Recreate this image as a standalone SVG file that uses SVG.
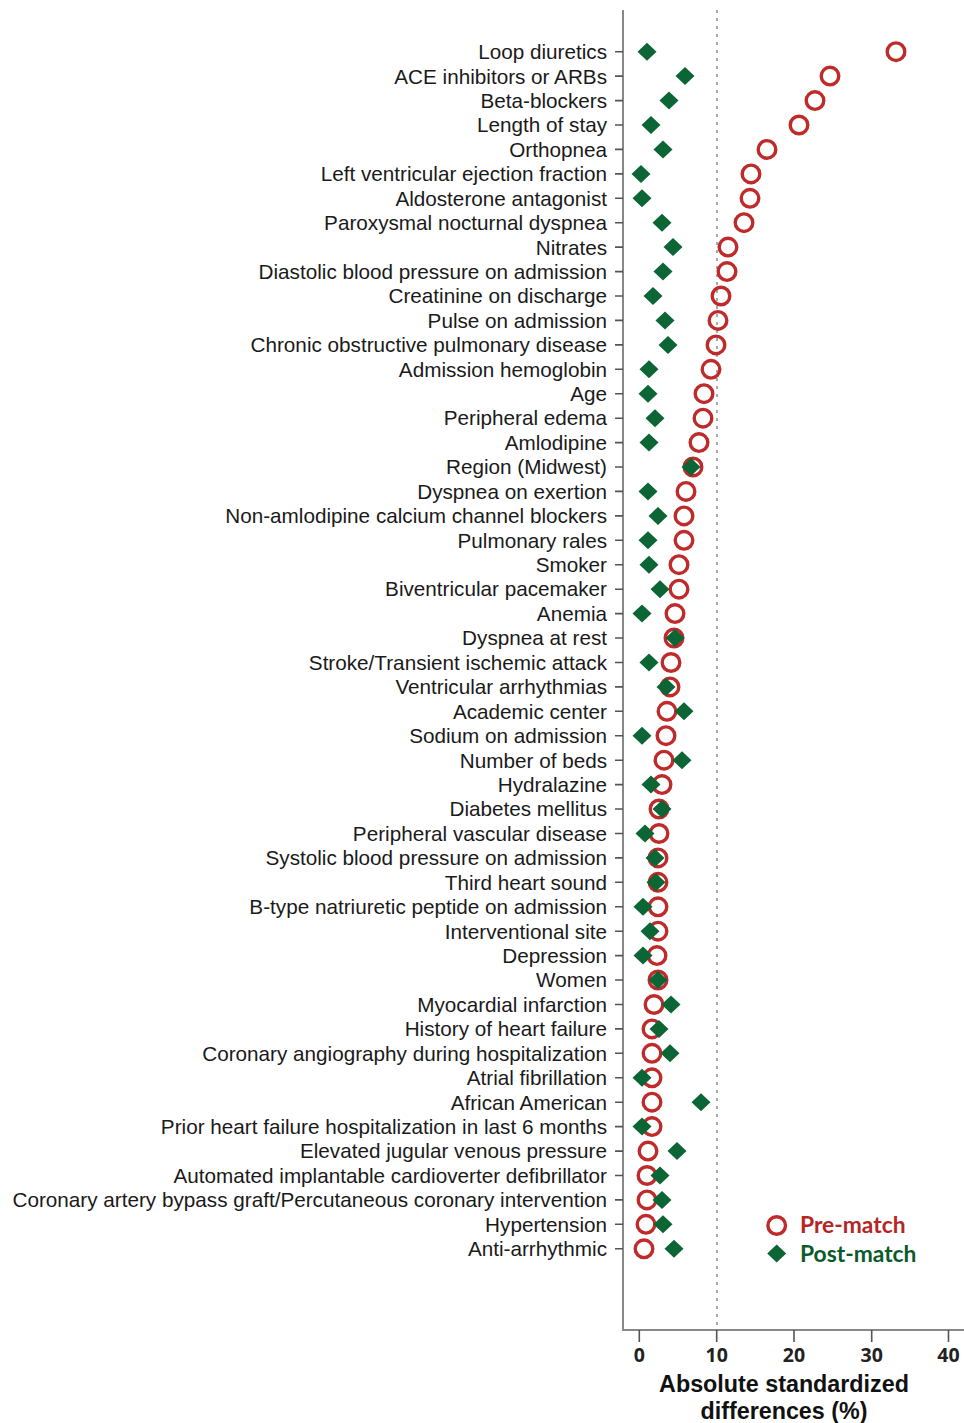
<svg xmlns="http://www.w3.org/2000/svg" xmlns:xlink="http://www.w3.org/1999/xlink" width="964" height="1423" viewBox="0 0 964 1423">
<style>
.lbl{font-family:"Liberation Sans",Arial,sans-serif;font-size:20.7px;fill:#1a1a1a;text-anchor:end}
.tk{stroke:#555;stroke-width:1.6}
.pre{fill:none;stroke:#bf2a2a;stroke-width:3.4}
.post{fill:#0b6534}
.xt{font-family:"Open Sans","DejaVu Sans",sans-serif;font-weight:bold;font-size:19.5px;fill:#222;text-anchor:middle}
.ttl{font-family:"Liberation Sans",Arial,sans-serif;font-weight:bold;font-size:23.3px;fill:#111;text-anchor:middle}
.leg{font-family:Lato,"Open Sans",sans-serif;font-weight:bold;font-size:22.8px}
</style>
<defs>
<circle id="ci" r="8.8" class="pre"/>
<path id="dm" d="M0,-9 L9.5,0 L0,9 L-9.5,0Z" class="post"/>
</defs>
<rect width="964" height="1423" fill="#fff"/>
<g id="axes">
<line x1="623" y1="10" x2="623" y2="1331" stroke="#888" stroke-width="2"/>
<line x1="622" y1="1330" x2="964" y2="1330" stroke="#888" stroke-width="2"/>
<line x1="717" y1="10" x2="717" y2="1330" stroke="#aaa" stroke-width="2" stroke-dasharray="3,5"/>
<g class="tk">
<line x1="639.3" y1="1330" x2="639.3" y2="1342"/>
<line x1="716.7" y1="1330" x2="716.7" y2="1342"/>
<line x1="794" y1="1330" x2="794" y2="1342"/>
<line x1="871.7" y1="1330" x2="871.7" y2="1342"/>
<line x1="948.5" y1="1330" x2="948.5" y2="1342"/>
</g>
<text class="xt" x="639.3" y="1362">0</text>
<text class="xt" x="716.7" y="1362">10</text>
<text class="xt" x="794" y="1362">20</text>
<text class="xt" x="871.7" y="1362">30</text>
<text class="xt" x="948.5" y="1362">40</text>
<text class="ttl" x="784" y="1392">Absolute standardized</text>
<text class="ttl" x="784" y="1419">differences (%)</text>
</g>
<g id="labels">
<text class="lbl" x="607" y="59">Loop diuretics</text>
<text class="lbl" x="607" y="84">ACE inhibitors or ARBs</text>
<text class="lbl" x="607" y="108">Beta-blockers</text>
<text class="lbl" x="607" y="132">Length of stay</text>
<text class="lbl" x="607" y="157">Orthopnea</text>
<text class="lbl" x="607" y="181">Left ventricular ejection fraction</text>
<text class="lbl" x="607" y="206">Aldosterone antagonist</text>
<text class="lbl" x="607" y="230">Paroxysmal nocturnal dyspnea</text>
<text class="lbl" x="607" y="255">Nitrates</text>
<text class="lbl" x="607" y="279">Diastolic blood pressure on admission</text>
<text class="lbl" x="607" y="303">Creatinine on discharge</text>
<text class="lbl" x="607" y="328">Pulse on admission</text>
<text class="lbl" x="607" y="352">Chronic obstructive pulmonary disease</text>
<text class="lbl" x="607" y="377">Admission hemoglobin</text>
<text class="lbl" x="607" y="401">Age</text>
<text class="lbl" x="607" y="425">Peripheral edema</text>
<text class="lbl" x="607" y="450">Amlodipine</text>
<text class="lbl" x="607" y="474">Region (Midwest)</text>
<text class="lbl" x="607" y="499">Dyspnea on exertion</text>
<text class="lbl" x="607" y="523">Non-amlodipine calcium channel blockers</text>
<text class="lbl" x="607" y="548">Pulmonary rales</text>
<text class="lbl" x="607" y="572">Smoker</text>
<text class="lbl" x="607" y="596">Biventricular pacemaker</text>
<text class="lbl" x="607" y="621">Anemia</text>
<text class="lbl" x="607" y="645">Dyspnea at rest</text>
<text class="lbl" x="607" y="670">Stroke/Transient ischemic attack</text>
<text class="lbl" x="607" y="694">Ventricular arrhythmias</text>
<text class="lbl" x="607" y="719">Academic center</text>
<text class="lbl" x="607" y="743">Sodium on admission</text>
<text class="lbl" x="607" y="768">Number of beds</text>
<text class="lbl" x="607" y="792">Hydralazine</text>
<text class="lbl" x="607" y="816">Diabetes mellitus</text>
<text class="lbl" x="607" y="841">Peripheral vascular disease</text>
<text class="lbl" x="607" y="865">Systolic blood pressure on admission</text>
<text class="lbl" x="607" y="890">Third heart sound</text>
<text class="lbl" x="607" y="914">B-type natriuretic peptide on admission</text>
<text class="lbl" x="607" y="939">Interventional site</text>
<text class="lbl" x="607" y="963">Depression</text>
<text class="lbl" x="607" y="987">Women</text>
<text class="lbl" x="607" y="1012">Myocardial infarction</text>
<text class="lbl" x="607" y="1036">History of heart failure</text>
<text class="lbl" x="607" y="1061">Coronary angiography during hospitalization</text>
<text class="lbl" x="607" y="1085">Atrial fibrillation</text>
<text class="lbl" x="607" y="1110">African American</text>
<text class="lbl" x="607" y="1134">Prior heart failure hospitalization in last 6 months</text>
<text class="lbl" x="607" y="1158">Elevated jugular venous pressure</text>
<text class="lbl" x="607" y="1183">Automated implantable cardioverter defibrillator</text>
<text class="lbl" x="607" y="1207">Coronary artery bypass graft/Percutaneous coronary intervention</text>
<text class="lbl" x="607" y="1232">Hypertension</text>
<text class="lbl" x="607" y="1256">Anti-arrhythmic</text>
</g>
<g id="ticks" class="tk">
<path d="M615,51.7h8M615,76.1h8M615,100.6h8M615,125h8M615,149.4h8M615,173.9h8M615,198.3h8M615,222.7h8M615,247.1h8M615,271.6h8M615,296h8M615,320.4h8M615,344.9h8M615,369.3h8M615,393.7h8M615,418.2h8M615,442.6h8M615,467h8M615,491.4h8M615,515.9h8M615,540.3h8M615,564.7h8M615,589.2h8M615,613.6h8M615,638h8M615,662.5h8M615,686.9h8M615,711.3h8M615,735.7h8M615,760.2h8M615,784.6h8M615,809h8M615,833.5h8M615,857.9h8M615,882.3h8M615,906.8h8M615,931.2h8M615,955.6h8M615,980h8M615,1004.5h8M615,1028.9h8M615,1053.3h8M615,1077.8h8M615,1102.2h8M615,1126.6h8M615,1151.1h8M615,1175.5h8M615,1199.9h8M615,1224.3h8M615,1248.8h8"/>
</g>
<g id="pre-match">
<use xlink:href="#ci" x="896" y="51.7"/>
<use xlink:href="#ci" x="830" y="76.1"/>
<use xlink:href="#ci" x="815" y="100.6"/>
<use xlink:href="#ci" x="799" y="125"/>
<use xlink:href="#ci" x="767" y="149.4"/>
<use xlink:href="#ci" x="751" y="173.9"/>
<use xlink:href="#ci" x="750" y="198.3"/>
<use xlink:href="#ci" x="744" y="222.7"/>
<use xlink:href="#ci" x="728" y="247.1"/>
<use xlink:href="#ci" x="727" y="271.6"/>
<use xlink:href="#ci" x="721" y="296"/>
<use xlink:href="#ci" x="718" y="320.4"/>
<use xlink:href="#ci" x="716" y="344.9"/>
<use xlink:href="#ci" x="711" y="369.3"/>
<use xlink:href="#ci" x="704" y="393.7"/>
<use xlink:href="#ci" x="703" y="418.2"/>
<use xlink:href="#ci" x="699" y="442.6"/>
<use xlink:href="#ci" x="693" y="467"/>
<use xlink:href="#ci" x="686" y="491.4"/>
<use xlink:href="#ci" x="684" y="515.9"/>
<use xlink:href="#ci" x="684" y="540.3"/>
<use xlink:href="#ci" x="679" y="564.7"/>
<use xlink:href="#ci" x="679" y="589.2"/>
<use xlink:href="#ci" x="675" y="613.6"/>
<use xlink:href="#ci" x="674" y="638"/>
<use xlink:href="#ci" x="671" y="662.5"/>
<use xlink:href="#ci" x="670" y="686.9"/>
<use xlink:href="#ci" x="667" y="711.3"/>
<use xlink:href="#ci" x="666" y="735.7"/>
<use xlink:href="#ci" x="664" y="760.2"/>
<use xlink:href="#ci" x="662" y="784.6"/>
<use xlink:href="#ci" x="659" y="809"/>
<use xlink:href="#ci" x="659" y="833.5"/>
<use xlink:href="#ci" x="658" y="857.9"/>
<use xlink:href="#ci" x="658" y="882.3"/>
<use xlink:href="#ci" x="658" y="906.8"/>
<use xlink:href="#ci" x="658" y="931.2"/>
<use xlink:href="#ci" x="657" y="955.6"/>
<use xlink:href="#ci" x="658" y="980"/>
<use xlink:href="#ci" x="654" y="1004.5"/>
<use xlink:href="#ci" x="652" y="1028.9"/>
<use xlink:href="#ci" x="652" y="1053.3"/>
<use xlink:href="#ci" x="652" y="1077.8"/>
<use xlink:href="#ci" x="652" y="1102.2"/>
<use xlink:href="#ci" x="652" y="1126.6"/>
<use xlink:href="#ci" x="648" y="1151.1"/>
<use xlink:href="#ci" x="647" y="1175.5"/>
<use xlink:href="#ci" x="647" y="1199.9"/>
<use xlink:href="#ci" x="646" y="1224.3"/>
<use xlink:href="#ci" x="644" y="1248.8"/>
</g>
<g id="post-match">
<use xlink:href="#dm" x="647" y="51.7"/>
<use xlink:href="#dm" x="685" y="76.1"/>
<use xlink:href="#dm" x="669" y="100.6"/>
<use xlink:href="#dm" x="651" y="125"/>
<use xlink:href="#dm" x="663" y="149.4"/>
<use xlink:href="#dm" x="641" y="173.9"/>
<use xlink:href="#dm" x="642" y="198.3"/>
<use xlink:href="#dm" x="662" y="222.7"/>
<use xlink:href="#dm" x="673" y="247.1"/>
<use xlink:href="#dm" x="663" y="271.6"/>
<use xlink:href="#dm" x="653" y="296"/>
<use xlink:href="#dm" x="665" y="320.4"/>
<use xlink:href="#dm" x="668" y="344.9"/>
<use xlink:href="#dm" x="649" y="369.3"/>
<use xlink:href="#dm" x="648" y="393.7"/>
<use xlink:href="#dm" x="655" y="418.2"/>
<use xlink:href="#dm" x="649" y="442.6"/>
<use xlink:href="#dm" x="691" y="467"/>
<use xlink:href="#dm" x="648" y="491.4"/>
<use xlink:href="#dm" x="658" y="515.9"/>
<use xlink:href="#dm" x="648" y="540.3"/>
<use xlink:href="#dm" x="649" y="564.7"/>
<use xlink:href="#dm" x="660" y="589.2"/>
<use xlink:href="#dm" x="642" y="613.6"/>
<use xlink:href="#dm" x="675" y="638"/>
<use xlink:href="#dm" x="649" y="662.5"/>
<use xlink:href="#dm" x="666" y="686.9"/>
<use xlink:href="#dm" x="684" y="711.3"/>
<use xlink:href="#dm" x="642" y="735.7"/>
<use xlink:href="#dm" x="682" y="760.2"/>
<use xlink:href="#dm" x="651" y="784.6"/>
<use xlink:href="#dm" x="662" y="809"/>
<use xlink:href="#dm" x="645" y="833.5"/>
<use xlink:href="#dm" x="655" y="857.9"/>
<use xlink:href="#dm" x="656" y="882.3"/>
<use xlink:href="#dm" x="643" y="906.8"/>
<use xlink:href="#dm" x="650" y="931.2"/>
<use xlink:href="#dm" x="643" y="955.6"/>
<use xlink:href="#dm" x="658" y="980"/>
<use xlink:href="#dm" x="671" y="1004.5"/>
<use xlink:href="#dm" x="659" y="1028.9"/>
<use xlink:href="#dm" x="670" y="1053.3"/>
<use xlink:href="#dm" x="642" y="1077.8"/>
<use xlink:href="#dm" x="701" y="1102.2"/>
<use xlink:href="#dm" x="642" y="1126.6"/>
<use xlink:href="#dm" x="677" y="1151.1"/>
<use xlink:href="#dm" x="660" y="1175.5"/>
<use xlink:href="#dm" x="662" y="1199.9"/>
<use xlink:href="#dm" x="663" y="1224.3"/>
<use xlink:href="#dm" x="674" y="1248.8"/>
</g>
<g id="legend">
<use xlink:href="#ci" x="776.7" y="1225.5"/>
<use xlink:href="#dm" x="776.7" y="1253.5"/>
<text class="leg" x="800" y="1233" fill="#b52525">Pre-match</text>
<text class="leg" x="800" y="1261.5" fill="#0b5a2c">Post-match</text>
</g>
</svg>
